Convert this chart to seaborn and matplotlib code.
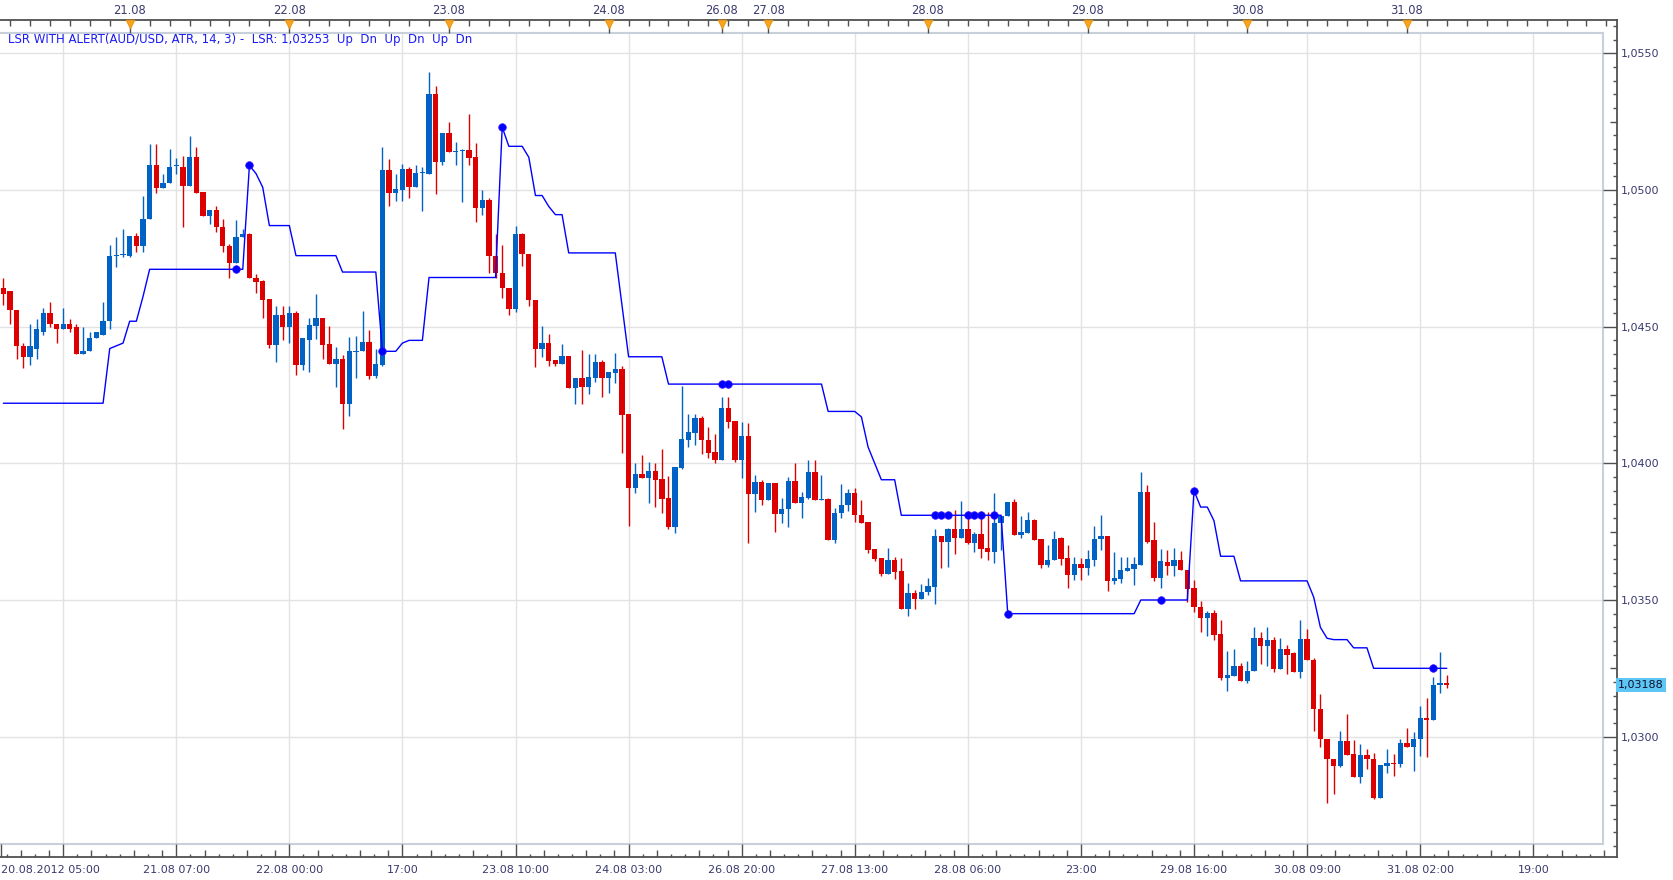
import numpy as np
import pandas as pd
import matplotlib
matplotlib.use("Agg")
import matplotlib.pyplot as plt
import matplotlib.transforms as mtransforms
import seaborn as sns

# ================= data (AUD/USD, H1) =================
opens = [1.0464, 1.0463, 1.0456, 1.0443, 1.0439, 1.0442, 1.0448, 1.0455, 1.0451, 1.0449,
         1.0451, 1.0450, 1.0440, 1.0441, 1.0446, 1.0447, 1.0452, 1.04759, 1.04762, 1.0476,
         1.04833, 1.04794, 1.04893, 1.05092, 1.05006, 1.05024, 1.05087, 1.05085, 1.05016, 1.05122,
         1.04994, 1.04906, 1.04928, 1.04866, 1.04797, 1.04732, 1.0483, 1.04839, 1.04679, 1.04667,
         1.046, 1.04432, 1.04541, 1.04499, 1.0455, 1.04359, 1.04453, 1.04504, 1.04532, 1.04436,
         1.04363, 1.04381, 1.04217, 1.04406, 1.0441, 1.04443, 1.04319, 1.04359, 1.05073, 1.0499,
         1.05, 1.05078, 1.05011, 1.05063, 1.05057, 1.05351, 1.05103, 1.05209, 1.0514, 1.05142,
         1.05148, 1.0512, 1.04936, 1.04962, 1.04757, 1.04697, 1.04641, 1.04566, 1.04839, 1.04766,
         1.04598, 1.0442, 1.04442, 1.04377, 1.04363, 1.04392, 1.04277, 1.04313, 1.0428, 1.04313,
         1.04371, 1.04313, 1.04331, 1.04345, 1.0418, 1.03911, 1.03961, 1.03948, 1.03972, 1.03943,
         1.03873, 1.03767, 1.03984, 1.04087, 1.04111, 1.04167, 1.04084, 1.04041, 1.04011, 1.04204,
         1.04155, 1.04011, 1.041, 1.03887, 1.03933, 1.03865, 1.03929, 1.03813, 1.03832, 1.03935,
         1.03854, 1.03874, 1.03968, 1.03866, 1.03869, 1.03718, 1.03817, 1.03846, 1.0389, 1.03811,
         1.03785, 1.03688, 1.03653, 1.03594, 1.03645, 1.03605, 1.03467, 1.03524, 1.03504, 1.03529,
         1.03549, 1.03735, 1.03712, 1.03758, 1.03726, 1.0376, 1.03708, 1.03743, 1.0369, 1.03676,
         1.03781, 1.03809, 1.0386, 1.03738, 1.03745, 1.03794, 1.03723, 1.03627, 1.03645, 1.03726,
         1.03654, 1.03591, 1.03631, 1.03617, 1.03645, 1.03722, 1.03736, 1.0357, 1.03576, 1.03607,
         1.03615, 1.03627, 1.03896, 1.03718, 1.03581, 1.0364, 1.03623, 1.03647, 1.03611, 1.03543,
         1.03476, 1.03433, 1.03451, 1.03375, 1.03214, 1.03222, 1.0326, 1.03203, 1.0324, 1.0336,
         1.03333, 1.03352, 1.03246, 1.03319, 1.03305, 1.03236, 1.03358, 1.03282, 1.03102, 1.02993,
         1.0292, 1.02893, 1.02983, 1.02935, 1.02853, 1.02932, 1.0292, 1.02776, 1.02893, 1.02905,
         1.02899, 1.02978, 1.02962, 1.02993, 1.03069, 1.03062, 1.0319, 1.03197]

highs = [1.0468, 1.0463, 1.0456, 1.0444, 1.0451, 1.0453, 1.0457, 1.0459, 1.0451, 1.0457,
         1.0453, 1.0451, 1.0450, 1.0448, 1.0448, 1.0459, 1.0480, 1.0483, 1.04859, 1.04833,
         1.04843, 1.04979, 1.05168, 1.05168, 1.05058, 1.0515, 1.05119, 1.05125, 1.05196, 1.05156,
         1.04994, 1.04928, 1.04942, 1.04894, 1.04803, 1.04891, 1.04858, 1.04842, 1.04693, 1.04672,
         1.046, 1.04574, 1.04574, 1.04574, 1.04559, 1.0446, 1.04532, 1.04618, 1.04532, 1.04501,
         1.04424, 1.04398, 1.04462, 1.04465, 1.04559, 1.04487, 1.0442, 1.05157, 1.05112, 1.05057,
         1.05096, 1.05084, 1.05093, 1.05084, 1.05433, 1.05379, 1.05209, 1.05248, 1.05175, 1.05152,
         1.05278, 1.05172, 1.0500, 1.04972, 1.04839, 1.048, 1.04641, 1.04869, 1.04842, 1.04766,
         1.04598, 1.04501, 1.04472, 1.04377, 1.04436, 1.04392, 1.04314, 1.04415, 1.04401, 1.04401,
         1.04378, 1.04334, 1.04402, 1.04356, 1.0418, 1.04002, 1.0403, 1.04005, 1.04002, 1.04052,
         1.03954, 1.03988, 1.04283, 1.04179, 1.04182, 1.04173, 1.04133, 1.04109, 1.04243, 1.04243,
         1.04155, 1.04151, 1.04149, 1.03957, 1.03938, 1.03929, 1.03929, 1.03874, 1.0395, 1.0400,
         1.03895, 1.04012, 1.04012, 1.03957, 1.03874, 1.03838, 1.03923, 1.03907, 1.03911, 1.03865,
         1.03785, 1.03688, 1.03653, 1.03691, 1.03657, 1.03654, 1.03561, 1.03536, 1.03558, 1.03579,
         1.03759, 1.03735, 1.03763, 1.03831, 1.03863, 1.03827, 1.03748, 1.03811, 1.03821, 1.03893,
         1.03809, 1.0386, 1.03869, 1.03809, 1.03821, 1.03797, 1.03723, 1.037, 1.03751, 1.03732,
         1.037, 1.03657, 1.03654, 1.03684, 1.03772, 1.03812, 1.03736, 1.03676, 1.03657, 1.03657,
         1.03657, 1.03969, 1.03921, 1.03787, 1.03685, 1.03684, 1.0369, 1.0368, 1.03611, 1.03574,
         1.03498, 1.03461, 1.03465, 1.03425, 1.03315, 1.03319, 1.03269, 1.03275, 1.03403, 1.03384,
         1.03403, 1.03366, 1.03361, 1.03337, 1.03311, 1.03427, 1.03394, 1.03288, 1.03155, 1.02993,
         1.0292, 1.0302, 1.03084, 1.02987, 1.02974, 1.02954, 1.02942, 1.02895, 1.02954, 1.02938,
         1.02993, 1.03033, 1.03017, 1.03112, 1.03142, 1.0322, 1.03309, 1.03227]

lows = [1.0458, 1.0451, 1.0438, 1.0435, 1.0436, 1.0438, 1.0447, 1.0450, 1.0444, 1.0449,
        1.0448, 1.0440, 1.0440, 1.0441, 1.0446, 1.0447, 1.0449, 1.0472, 1.04754, 1.04754,
        1.04774, 1.04773, 1.04893, 1.04991, 1.05006, 1.05024, 1.05058, 1.04866, 1.05016, 1.04991,
        1.04906, 1.04876, 1.04845, 1.04773, 1.04679, 1.04732, 1.0483, 1.04679, 1.04623, 1.04533,
        1.04422, 1.04371, 1.0445, 1.0444, 1.04323, 1.04341, 1.04333, 1.04456, 1.04381, 1.04363,
        1.0428, 1.04125, 1.04174, 1.04311, 1.0441, 1.04307, 1.04311, 1.04355, 1.04942, 1.0496,
        1.0496, 1.04972, 1.05011, 1.04924, 1.05057, 1.04987, 1.05091, 1.05138, 1.05093, 1.04958,
        1.05093, 1.04883, 1.04909, 1.04697, 1.04678, 1.04606, 1.04541, 1.04553, 1.04723, 1.04574,
        1.04351, 1.0439, 1.04357, 1.04356, 1.04363, 1.04277, 1.04216, 1.04218, 1.04255, 1.04299,
        1.04244, 1.04259, 1.04293, 1.04039, 1.03771, 1.03893, 1.03948, 1.03855, 1.03841, 1.03818,
        1.03761, 1.03746, 1.03978, 1.0406, 1.04067, 1.04033, 1.04021, 1.04002, 1.04011, 1.04128,
        1.04006, 1.03948, 1.03707, 1.03823, 1.03846, 1.03865, 1.0375, 1.0378, 1.03767, 1.03854,
        1.03801, 1.03868, 1.03866, 1.03866, 1.03718, 1.0371, 1.03801, 1.03826, 1.03787, 1.03783,
        1.03673, 1.03643, 1.03588, 1.03594, 1.03576, 1.03467, 1.03443, 1.03467, 1.03504, 1.03518,
        1.03484, 1.03617, 1.03621, 1.03667, 1.03726, 1.03706, 1.03676, 1.03654, 1.03645, 1.03637,
        1.03682, 1.03809, 1.03738, 1.03726, 1.03745, 1.03718, 1.03617, 1.03621, 1.03645, 1.03627,
        1.03545, 1.03575, 1.03575, 1.03593, 1.03623, 1.03682, 1.03534, 1.03558, 1.03564, 1.03607,
        1.03554, 1.03627, 1.03708, 1.03569, 1.03545, 1.03592, 1.03589, 1.03609, 1.03491, 1.03455,
        1.03384, 1.03367, 1.03355, 1.03206, 1.03167, 1.03222, 1.03203, 1.03196, 1.0324, 1.03264,
        1.03257, 1.03236, 1.03246, 1.0323, 1.03236, 1.03214, 1.03279, 1.03021, 1.02962, 1.02759,
        1.0279, 1.02889, 1.02934, 1.02853, 1.02832, 1.02883, 1.02771, 1.02776, 1.02867, 1.02856,
        1.02889, 1.02962, 1.02875, 1.02929, 1.02926, 1.03062, 1.03161, 1.03179]

closes = [1.0462, 1.0456, 1.0443, 1.0439, 1.0443, 1.0449, 1.0455, 1.0451, 1.0449, 1.0451,
          1.0449, 1.0440, 1.0441, 1.0446, 1.0448, 1.0452, 1.0476, 1.04763, 1.04766, 1.04833,
          1.04794, 1.04895, 1.05092, 1.05006, 1.05026, 1.05085, 1.0509, 1.05016, 1.05122, 1.04991,
          1.04906, 1.04928, 1.04864, 1.04794, 1.04732, 1.0483, 1.04839, 1.04679, 1.04663, 1.04599,
          1.04432, 1.04541, 1.04499, 1.0455, 1.04359, 1.0446, 1.04508, 1.04532, 1.04432, 1.04363,
          1.04381, 1.04217, 1.0441, 1.04412, 1.04443, 1.04319, 1.04363, 1.05073, 1.0499, 1.05005,
          1.05078, 1.05011, 1.05063, 1.05066, 1.05351, 1.05103, 1.05209, 1.05138, 1.05144, 1.05148,
          1.05118, 1.04936, 1.04962, 1.04757, 1.04697, 1.04641, 1.04566, 1.04839, 1.04766, 1.04598,
          1.0442, 1.04442, 1.04375, 1.04363, 1.04392, 1.04277, 1.04314, 1.0428, 1.04316, 1.04371,
          1.04313, 1.04334, 1.04345, 1.04178, 1.03911, 1.03961, 1.03948, 1.03972, 1.0394, 1.03871,
          1.03767, 1.03988, 1.0409, 1.04116, 1.04167, 1.04084, 1.04039, 1.04011, 1.04204, 1.04152,
          1.04011, 1.041, 1.03887, 1.03933, 1.03865, 1.03929, 1.03813, 1.03834, 1.03935, 1.03854,
          1.03878, 1.03968, 1.03866, 1.03869, 1.03718, 1.03817, 1.03846, 1.0389, 1.0381, 1.03783,
          1.03683, 1.03649, 1.03594, 1.03645, 1.03603, 1.03467, 1.03524, 1.03504, 1.03531, 1.03551,
          1.03735, 1.03712, 1.03758, 1.03726, 1.0376, 1.03708, 1.03743, 1.03688, 1.03676, 1.03783,
          1.03809, 1.0386, 1.03738, 1.03747, 1.03794, 1.0372, 1.03627, 1.03645, 1.03724, 1.03649,
          1.03591, 1.03631, 1.03617, 1.03649, 1.03722, 1.03736, 1.0357, 1.0358, 1.03609, 1.03616,
          1.03631, 1.03896, 1.03714, 1.03581, 1.03642, 1.03623, 1.03647, 1.03609, 1.0354, 1.03473,
          1.03433, 1.03451, 1.03372, 1.03214, 1.03224, 1.0326, 1.03203, 1.03242, 1.0336, 1.03333,
          1.03352, 1.03246, 1.03319, 1.033, 1.03236, 1.03358, 1.03279, 1.03102, 1.02993, 1.02917,
          1.02893, 1.02983, 1.02934, 1.02853, 1.02932, 1.02917, 1.02776, 1.02895, 1.02905, 1.02899,
          1.02978, 1.02962, 1.02993, 1.03069, 1.03062, 1.0319, 1.03197, 1.03188]

# LSR trailing line, one value per bar (flat stretches written as repeats)
lsr = ([1.0422] * 16 + [1.0442, 1.0443, 1.0444, 1.0452, 1.0452, 1.0461] + [1.0471] * 15
       + [1.0509, 1.0506, 1.0501] + [1.0487] * 4 + [1.0476] * 7 + [1.0470] * 6
       + [1.0441] * 3 + [1.0444, 1.0445, 1.0445, 1.0445] + [1.0468] * 11
       + [1.0523] + [1.0516] * 3 + [1.0512] + [1.0498] * 2 + [1.0494] + [1.0491] * 2
       + [1.0477] * 8 + [1.0458] + [1.0439] * 6 + [1.0429] * 24 + [1.0419] * 5
       + [1.0417, 1.0406, 1.0400] + [1.0394] * 3 + [1.0381] * 16 + [1.0345] * 20
       + [1.0350] * 8 + [1.0390] + [1.0384] * 2 + [1.0379] + [1.0366] * 3 + [1.0357] * 11
       + [1.0351, 1.0340, 1.0336] + [1.03355] * 3 + [1.03325] * 3 + [1.0325] * 12)

signal_bars = [35, 37, 57, 75, 108, 109, 140, 141, 142, 145, 146, 147, 149, 151, 174, 179, 215]

day_labels = ["21.08", "22.08", "23.08", "24.08", "26.08", "27.08", "28.08", "29.08", "30.08", "31.08"]
time_labels = ["20.08.2012 05:00", "21.08 07:00", "22.08 00:00", "17:00", "23.08 10:00",
               "24.08 03:00", "26.08 20:00", "27.08 13:00", "28.08 06:00", "23:00",
               "29.08 16:00", "30.08 09:00", "31.08 02:00", "19:00"]
price_levels = [1.0300, 1.0350, 1.0400, 1.0450, 1.0500, 1.0550]
indicator_text = "LSR WITH ALERT(AUD/USD, ATR, 14, 3) -  LSR: 1,03253  Up  Dn  Up  Dn  Up  Dn"
last_price = 1.03188

# ================= layout (pixels of the 1674x880 picture) =================
W, H = 1674, 880
PLOT = dict(left=0, right=1603, top=33, bottom=844)
FRAME = dict(left=0, right=1617, top=20, bottom=857)
BAR0_PX, BAR_PX = 3.3, 6.652          # x pixel of bar 0, pixels per bar
REF_P, REF_PX, PX_PER_UNIT = 1.0550, 53.4, 27330.0
GRID_START, GRID_STEP = 9, 17

BLUE, RED = "#0062c4", "#dd0000"
LINE = "#0000ff"
AXIS = "#505050"
TXT = "#3a3a6e"
PT = 0.72   # points per pixel at dpi 100


def bar_at(px):
    return (px - BAR0_PX) / BAR_PX


def price_at(py):
    return REF_P - (py - REF_PX) / PX_PER_UNIT


def rect(b):
    return [b["left"] / W, 1 - b["bottom"] / H,
            (b["right"] - b["left"]) / W, (b["bottom"] - b["top"]) / H]


sns.set_theme(style="white")
plt.rcParams["font.family"] = ["DejaVu Sans"]

df = pd.DataFrame({"open": opens, "high": highs, "low": lows, "close": closes, "lsr": lsr})
df["bar"] = np.arange(len(df))

n_slots = int(bar_at(FRAME["right"])) + 2
times = pd.date_range("2012-08-20 05:00", "2012-08-24 16:00", freq="h")
times = times.append(pd.date_range("2012-08-26 17:00", periods=n_slots - len(times), freq="h"))
day_str = times.strftime("%d.%m")
day_pos = [int(np.argmax(day_str == d)) for d in day_labels]
grid_pos = list(range(GRID_START, n_slots, GRID_STEP))
grid_pos = [g for g in grid_pos if g <= bar_at(PLOT["right"])]
label_pos = [bar_at(1)] + grid_pos[1:]

fig = plt.figure(figsize=(W / 100, H / 100), dpi=100)
fig.patch.set_facecolor("white")

# ---------------- price area ----------------
ax = fig.add_axes(rect(PLOT))
ax.set_xlim(bar_at(PLOT["left"]), bar_at(PLOT["right"]))
ax.set_ylim(price_at(PLOT["bottom"]), price_at(PLOT["top"]))
ax.set_xticks(grid_pos)
ax.set_yticks(price_levels)
ax.grid(True, color="#e2e2e2", lw=1.0)
ax.tick_params(length=0, labelbottom=False, labelleft=False)
for side in ["top", "right", "bottom"]:
    ax.spines[side].set_color("#c8d0dc")
    ax.spines[side].set_linewidth(1.5)
ax.spines["left"].set_visible(False)

up = df["close"] >= df["open"]
colors = np.where(up, BLUE, RED)
ax.vlines(df["bar"], df["low"], df["high"], colors=colors, lw=1.0, zorder=2)
body_lo = df[["open", "close"]].min(axis=1)
body_h = (df["close"] - df["open"]).abs().clip(lower=0.00004)
ax.bar(df["bar"], body_h, bottom=body_lo, width=0.8, color=colors, lw=0, zorder=3)

sns.lineplot(data=df, x="bar", y="lsr", ax=ax, color=LINE, lw=1.0,
             estimator=None, zorder=4, legend=False)
sig = df.loc[signal_bars]
sns.scatterplot(data=sig, x="bar", y="lsr", ax=ax, color=LINE, s=30,
                edgecolor="#3a10ff", linewidth=0.5, zorder=5, legend=False)
ax.set_xlabel("")
ax.set_ylabel("")

ax.text(8 / (PLOT["right"] - PLOT["left"]), (PLOT["bottom"] - 39) / (PLOT["bottom"] - PLOT["top"]),
        indicator_text, transform=ax.transAxes, color="#1c1cf0", fontsize=8.5, va="center", ha="left")

# ---------------- outer frame with time / price axes ----------------
frame = fig.add_axes(rect(FRAME))
frame.patch.set_alpha(0)
frame.set_xlim(bar_at(FRAME["left"]), bar_at(FRAME["right"]))
frame.set_ylim(price_at(FRAME["bottom"]), price_at(FRAME["top"]))
frame.grid(False)
frame.spines["left"].set_visible(False)
for side in ["top", "right", "bottom"]:
    frame.spines[side].set_color(AXIS)
    frame.spines[side].set_linewidth(1.3)

fw = FRAME["right"] - FRAME["left"]
fh = FRAME["bottom"] - FRAME["top"]

# bottom time axis
frame.set_xticks(label_pos + [grid_pos[0]], labels=time_labels + [""])
sub = [g + j * GRID_STEP / 8 for g in range(GRID_START - GRID_STEP, n_slots, GRID_STEP) for j in range(1, 8)]
sub = [s for s in sub if frame.get_xlim()[0] < s < frame.get_xlim()[1]]
frame.set_xticks([s for k, s in enumerate(sub) if (k % 7) % 2 == 0], minor=True)
frame.tick_params(axis="x", which="major", direction="in", length=13 * PT, width=1.0,
                  color=AXIS, labelsize=8, labelcolor=TXT, pad=6)
frame.tick_params(axis="x", which="minor", direction="in", length=3.5 * PT, width=1.0, color=AXIS)
first = frame.xaxis.get_major_ticks()[0]
first.tick1line.set_visible(False)
first.label1.set_horizontalalignment("left")
xb = mtransforms.blended_transform_factory(frame.transData, frame.transAxes)
mid = [s for k, s in enumerate(sub) if (k % 7) % 2 == 1]
frame.vlines(mid, 0, 7 / fh, transform=xb, color=AXIS, lw=1.0, clip_on=False)

# right price axis
frame.yaxis.tick_right()
frame.set_yticks(price_levels, labels=[f"{v:.4f}".replace(".", ",") for v in price_levels])
minor_p = [round(1.0250 + k * 0.0005, 4) for k in range(0, 70)]
lo_p, hi_p = frame.get_ylim()
minor_p = [p for p in minor_p if lo_p < p < hi_p and round(p * 10000) % 50 != 0]
frame.set_yticks([p for p in minor_p if round(p * 10000) % 25 != 0], minor=True)
frame.tick_params(axis="y", which="major", direction="in", length=14 * PT, width=1.0,
                  color=AXIS, labelsize=8, labelcolor=TXT, pad=3)
frame.tick_params(axis="y", which="minor", direction="in", length=4 * PT, width=1.0, color=AXIS)
yb = mtransforms.blended_transform_factory(frame.transAxes, frame.transData)
mids_p = [p for p in minor_p if round(p * 10000) % 25 == 0]
frame.hlines(mids_p, 1 - 7 / fw, 1, transform=yb, color=AXIS, lw=1.0, clip_on=False)

# current price tag
frame.text(1 + 1 / fw, last_price, f"{last_price:.5f}".replace(".", ","), transform=yb,
           fontsize=8, color="#101030", va="center", ha="left",
           bbox=dict(boxstyle="square,pad=0.18", fc="#5ec6f4", ec="none"))

# top day axis
top = frame.twiny()
top.set_xlim(frame.get_xlim())
for s in top.spines.values():
    s.set_visible(False)
top.set_xticks(day_pos, labels=day_labels)
three_h = [i for i in range(n_slots) if times[i].hour % 3 == 0 and i not in day_pos]
three_h = [i for i in three_h if top.get_xlim()[0] < i < top.get_xlim()[1]]
top.set_xticks(three_h, minor=True)
top.tick_params(axis="x", which="major", direction="in", length=13 * PT, width=1.0,
                color=AXIS, labelsize=8.3, labelcolor=TXT, pad=2)
top.tick_params(axis="x", which="minor", direction="in", length=6 * PT, width=1.0, color=AXIS)
tb = mtransforms.blended_transform_factory(top.transData, top.transAxes)
top.scatter(day_pos, [1 - 4.5 / fh] * len(day_pos), transform=tb, marker="v", s=40,
            color="#f7a51e", edgecolor="#e8900a", linewidth=0.6, zorder=5, clip_on=False)

fig.savefig("out.png", dpi=100, facecolor="white")
